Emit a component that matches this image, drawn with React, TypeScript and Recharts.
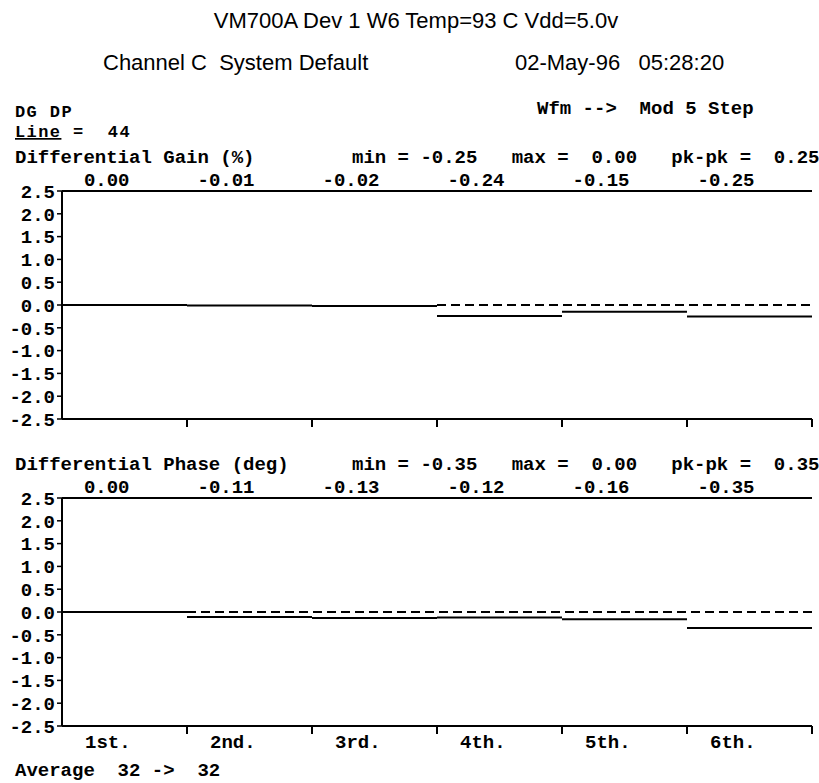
import { LineChart, Line, XAxis, YAxis } from 'recharts'

const stepNames = ['1st.', '2nd.', '3rd.', '4th.', '5th.', '6th.']
const gainValues = [0.0, -0.01, -0.02, -0.24, -0.15, -0.25]
const phaseValues = [0.0, -0.11, -0.13, -0.12, -0.16, -0.35]
// step index where the dashed zero reference starts
const gainRefFrom = 3
const phaseRefFrom = 1
const gainStats = [-0.25, 0.0, 0.25]
const phaseStats = [-0.35, 0.0, 0.35]
const yTicks = [2.5, 2.0, 1.5, 1.0, 0.5, 0.0, -0.5, -1.0, -1.5, -2.0, -2.5]

const MONO = '"Liberation Mono", "DejaVu Sans Mono", monospace'
const SANS = '"Liberation Sans", Arial, sans-serif'

const fmt = (v: number) => (v < 0 ? '-' : ' ') + Math.abs(v).toFixed(2)

const statsLine = (s: number[]) =>
  `min = ${fmt(s[0])}   max = ${fmt(s[1])}   pk-pk = ${fmt(s[2])}`

function StepPanel({ values, refFrom, showNames, top, bottomHeight }: any) {
  const rows: any[] = []
  values.forEach((v: number, i: number) => {
    rows.push({ x: i, v })
    rows.push({ x: i + 1, v })
    rows.push({ x: i + 1, v: null })
  })
  const refRows = [
    { x: refFrom, r: 0 },
    { x: values.length, r: 0 },
  ]
  const colTicks = values.map((_: number, i: number) => i + 0.5)
  const edgeTicks = [...values.map((_: number, i: number) => i), values.length]

  const TopTick = ({ x, y, payload }: any) => {
    const i = Math.floor(payload.value)
    return (
      <text x={x + 5} y={y - 5} textAnchor="end" fontFamily={MONO} fontWeight="bold" fontSize={19} fill="#000">
        {fmt(values[i]).trim()}
      </text>
    )
  }

  const BottomTick = ({ x, y, payload }: any) => {
    const i = payload.value
    return (
      <g>
        {i > 0 && <line x1={x} y1={y} x2={x} y2={y + 8} stroke="#000" strokeWidth={2} />}
        {showNames && i < stepNames.length && (
          <text x={x + 23} y={y + 22} fontFamily={MONO} fontWeight="bold" fontSize={19} fill="#000">
            {stepNames[i]}
          </text>
        )}
      </g>
    )
  }

  return (
    <div style={{ position: 'absolute', left: 0, top }}>
      <LineChart
        width={819}
        height={30 + 228 + bottomHeight}
        data={rows}
        margin={{ top: 0, right: 7, bottom: 0, left: 0 }}
      >
        <XAxis
          xAxisId="top"
          orientation="top"
          type="number"
          dataKey="x"
          domain={[0, values.length]}
          allowDataOverflow
          ticks={colTicks}
          interval={0}
          height={30}
          tickSize={0}
          tickMargin={0}
          tickLine={false}
          axisLine={{ stroke: '#000', strokeWidth: 2 }}
          tick={TopTick}
        />
        <XAxis
          xAxisId="bottom"
          orientation="bottom"
          type="number"
          dataKey="x"
          domain={[0, values.length]}
          allowDataOverflow
          ticks={edgeTicks}
          interval={0}
          height={bottomHeight}
          tickSize={0}
          tickMargin={0}
          tickLine={false}
          axisLine={{ stroke: '#000', strokeWidth: 2 }}
          tick={BottomTick}
        />
        <YAxis
          type="number"
          domain={[-2.5, 2.5]}
          ticks={yTicks}
          interval={0}
          width={62}
          tickSize={5}
          tickMargin={2}
          tickFormatter={(v: number) => v.toFixed(1)}
          tick={{ fontFamily: MONO, fontWeight: 'bold', fontSize: 19, fill: '#000' }}
          tickLine={{ stroke: '#000', strokeWidth: 1.5 }}
          axisLine={{ stroke: '#000', strokeWidth: 2 }}
        />
        <Line
          xAxisId="bottom"
          data={refRows}
          dataKey="r"
          stroke="#000"
          strokeWidth={1.8}
          strokeDasharray="9 5"
          dot={false}
          activeDot={false}
          isAnimationActive={false}
        />
        <Line
          xAxisId="bottom"
          dataKey="v"
          stroke="#000"
          strokeWidth={2}
          dot={false}
          activeDot={false}
          connectNulls={false}
          isAnimationActive={false}
        />
      </LineChart>
    </div>
  )
}

export default function App() {
  const mono = { fontFamily: MONO, fontWeight: 'bold' as const, fontSize: 19, fill: '#000' }
  const monoSmall = { fontFamily: MONO, fontWeight: 'bold' as const, fontSize: 17, letterSpacing: 1.4, fill: '#000' }
  const sans = { fontFamily: SANS, fontSize: 22, fill: '#000' }
  return (
    <div style={{ position: 'absolute', left: 0, top: 0, width: 819, height: 783, background: '#fff', overflow: 'hidden' }}>
      <svg width={819} height={783} style={{ position: 'absolute', left: 0, top: 0 }}>
        <text x={416} y={28} textAnchor="middle" {...sans}>VM700A Dev 1 W6 Temp=93 C Vdd=5.0v</text>
        <text x={103} y={70} style={{ whiteSpace: 'pre' }} {...sans}>Channel C  System Default</text>
        <text x={515} y={70} style={{ whiteSpace: 'pre' }} {...sans}>02-May-96   05:28:20</text>

        <text x={15} y={117} {...monoSmall}>DG DP</text>
        <text x={537} y={114} style={{ whiteSpace: 'pre' }} {...mono}>Wfm --&gt;  Mod 5 Step</text>
        <text x={15} y={137} style={{ whiteSpace: 'pre' }} {...monoSmall}>
          <tspan textDecoration="underline">Line</tspan> =  44
        </text>
        <text x={15} y={163} {...mono}>Differential Gain (%)</text>
        <text x={352} y={163} style={{ whiteSpace: 'pre' }} {...mono}>{statsLine(gainStats)}</text>

        <text x={15} y={470} {...mono}>Differential Phase (deg)</text>
        <text x={352} y={470} style={{ whiteSpace: 'pre' }} {...mono}>{statsLine(phaseStats)}</text>

        <text x={15} y={776} style={{ whiteSpace: 'pre' }} {...mono}>Average  32 -&gt;  32</text>
      </svg>
      <StepPanel values={gainValues} refFrom={gainRefFrom} showNames={false} top={161} bottomHeight={20} />
      <StepPanel values={phaseValues} refFrom={phaseRefFrom} showNames={true} top={468} bottomHeight={30} />
    </div>
  )
}
